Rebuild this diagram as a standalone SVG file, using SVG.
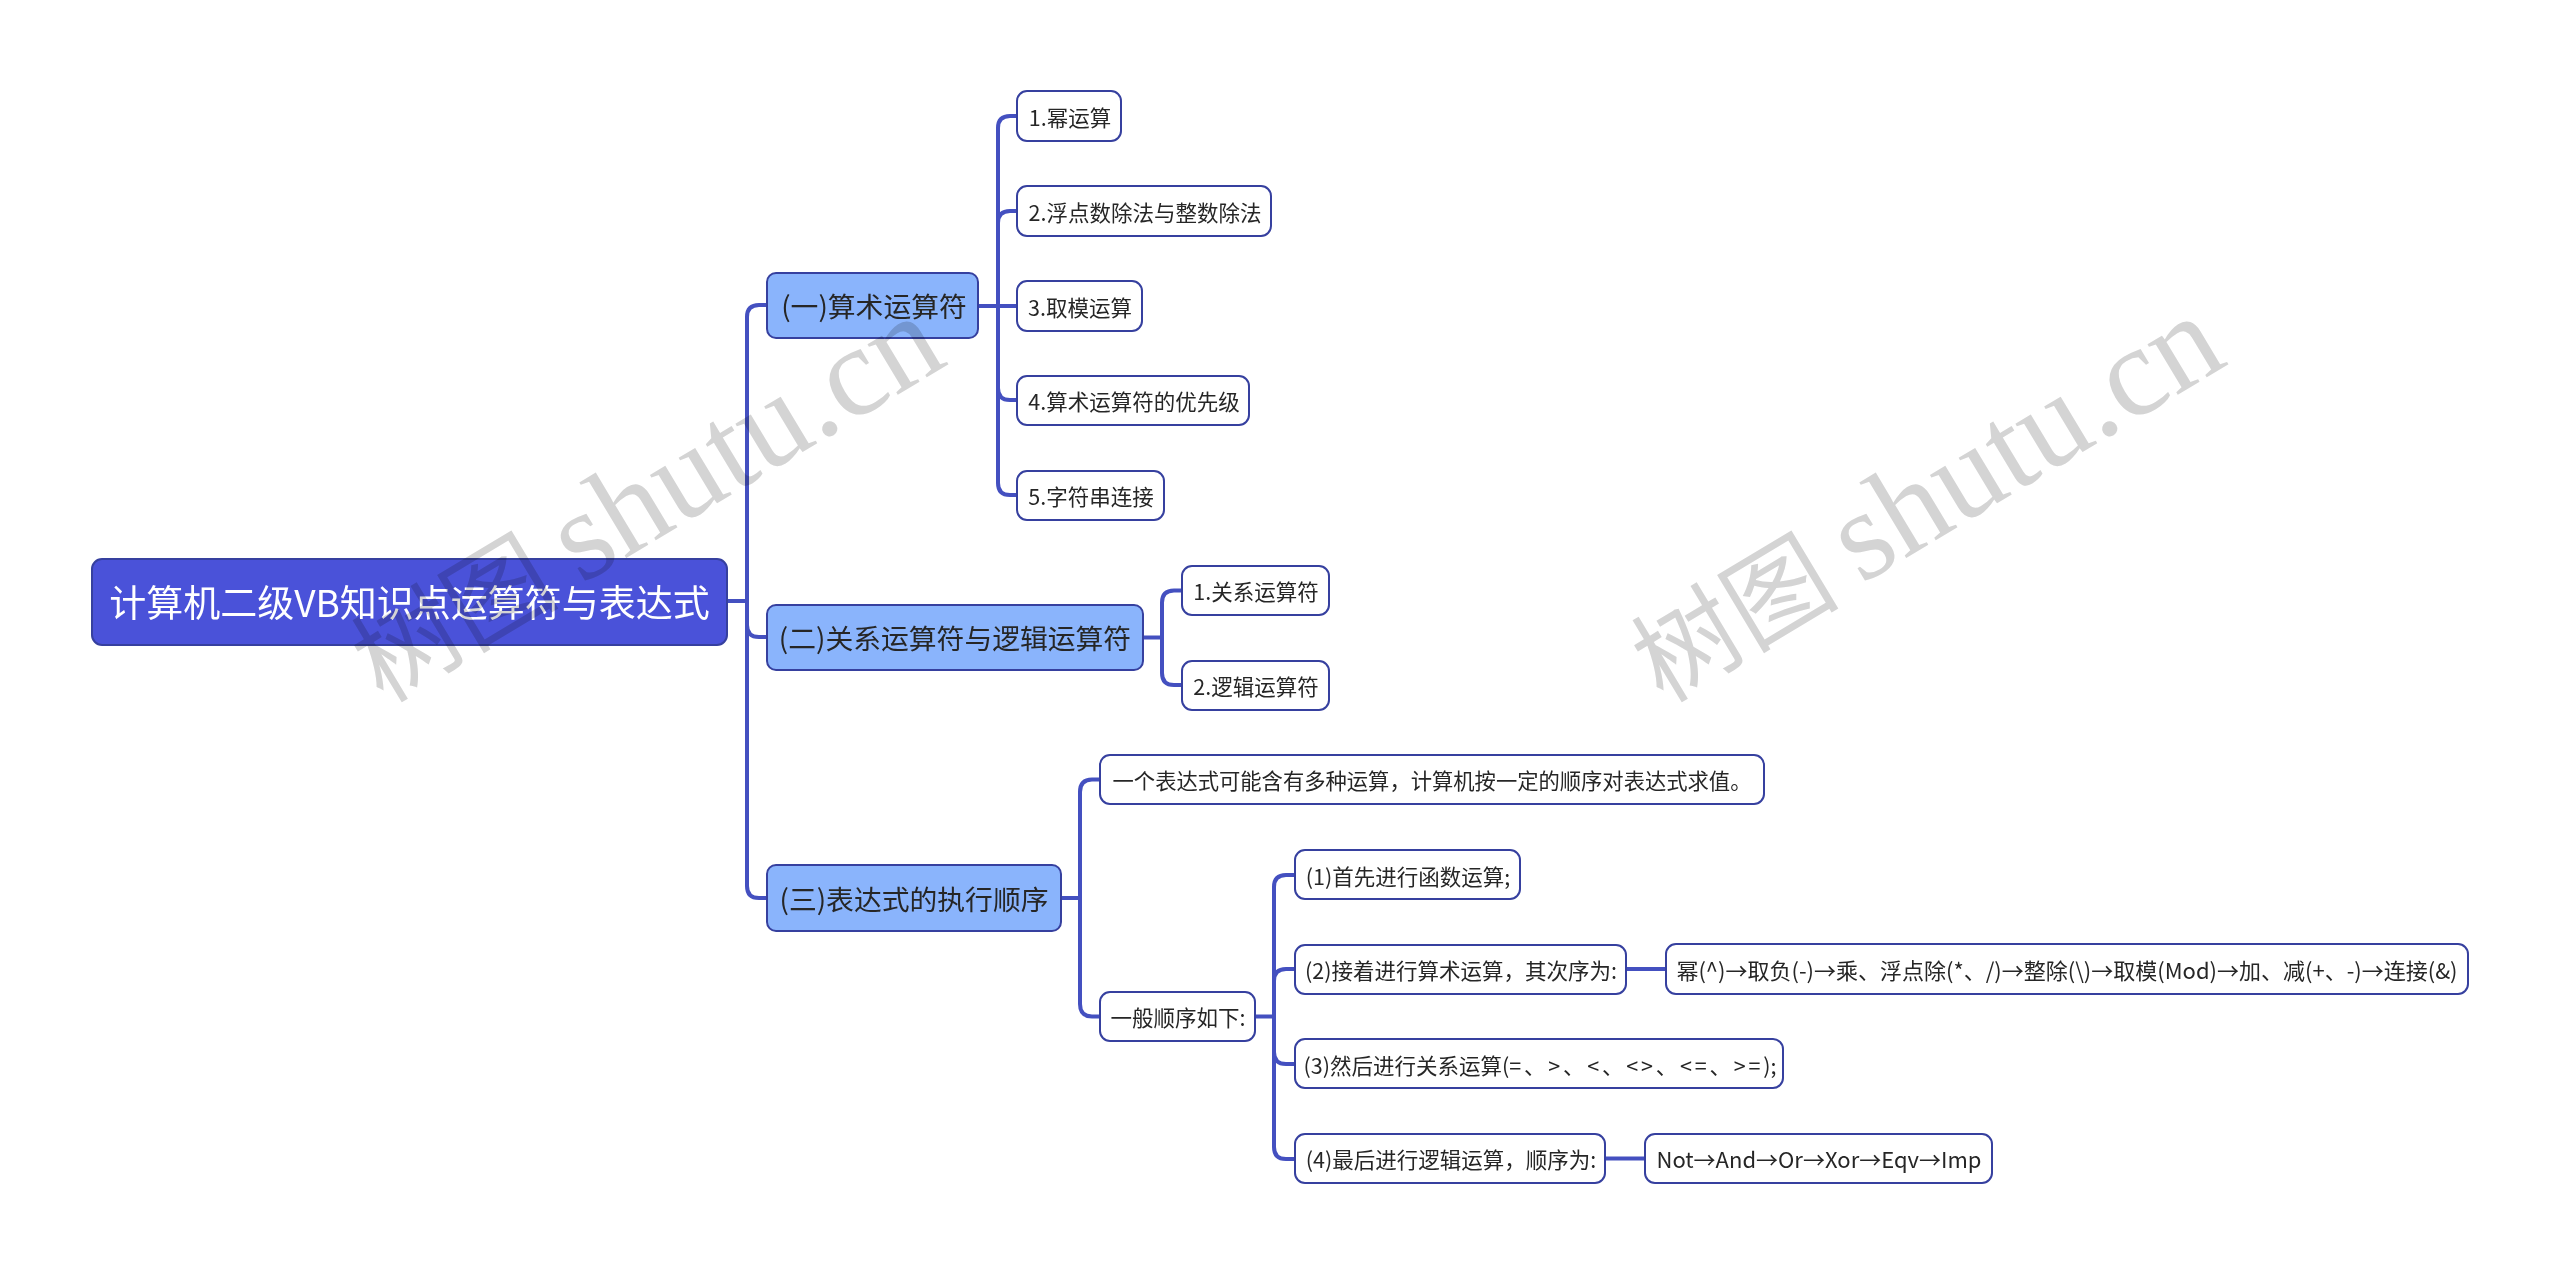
<svg xmlns="http://www.w3.org/2000/svg" width="2560" height="1275" viewBox="0 0 2560 1275">
<style>
text{font-family:"Noto Sans CJK SC","Noto Sans",sans-serif}
.t{font-size:21.500px;fill:#262626;text-anchor:middle;dominant-baseline:central}
.w{font-size:22px}
.b{font-size:27.800px;fill:#262626;text-anchor:middle;dominant-baseline:central}
.r{font-size:37px;fill:#fff;text-anchor:middle;dominant-baseline:central}
.leaf{fill:#fff;stroke:#36409f;stroke-width:2}
.branch{fill:#8ab4fc;stroke:#36409f;stroke-width:2}
.root{fill:#4a52d9;stroke:#36409f;stroke-width:2}
#connectors path{fill:none;stroke:#4450c0;stroke-width:4}
.wm{font-size:104px;fill:#d4d4d4;mix-blend-mode:multiply}
.wl{font-family:"Liberation Serif",serif;font-size:128px}
</style>
<rect width="2560" height="1275" fill="#fff"/>
<g id="connectors">
<path d="M727 601H747M747 317V886M747 317Q747 305 759 305H767M747 625Q747 637 759 637H767M747 886Q747 898 759 898H767"/>
<path d="M978 306H1017M998 128V483M998 128Q998 116 1010 116H1017M998 223Q998 211 1010 211H1017M998 388Q998 400 1010 400H1017M998 483Q998 495 1010 495H1017"/>
<path d="M1143 637.500H1162M1162 602.500V673M1162 602.500Q1162 590.500 1174 590.500H1182M1162 673Q1162 685 1174 685H1182"/>
<path d="M1061 898H1080M1080 792V1004M1080 792Q1080 779.500 1092 779.500H1100M1080 1004Q1080 1016.500 1092 1016.500H1100"/>
<path d="M1255 1016.500H1274M1274 887V1147M1274 887Q1274 875 1286 875H1295M1274 981Q1274 969 1286 969H1295M1274 1052Q1274 1064 1286 1064H1295M1274 1147Q1274 1159 1286 1159H1295"/>
<path d="M1626 969H1666M1605 1158.500H1645"/>
</g>
<g id="root"><rect class="root" x="92" y="559" width="635" height="86" rx="10"/><text class="r" x="409.500" y="601">计算机二级VB知识点运算符与表达式</text></g>
<g id="b1"><rect class="branch" x="767" y="273" width="211" height="65" rx="9"/><text class="b" x="874" y="305">(一)算术运算符</text></g>
<g id="b2"><rect class="branch" x="767" y="605" width="376" height="65" rx="9"/><text class="b" x="955" y="637">(二)关系运算符与逻辑运算符</text></g>
<g id="b3"><rect class="branch" x="767" y="865" width="294" height="66" rx="9"/><text class="b" x="914" y="898">(三)表达式的执行顺序</text></g>
<g id="n1"><rect class="leaf" x="1017" y="91" width="104" height="50" rx="10"/><text class="t" x="1070" y="116">1.幂运算</text></g>
<g id="n2"><rect class="leaf" x="1017" y="186" width="254" height="50" rx="10"/><text class="t" x="1145" y="211">2.浮点数除法与整数除法</text></g>
<g id="n3"><rect class="leaf" x="1017" y="281" width="125" height="50" rx="10"/><text class="t" x="1080" y="306">3.取模运算</text></g>
<g id="n4"><rect class="leaf" x="1017" y="376" width="232" height="49" rx="10"/><text class="t" x="1134" y="400">4.算术运算符的优先级</text></g>
<g id="n5"><rect class="leaf" x="1017" y="471" width="147" height="49" rx="10"/><text class="t" x="1091" y="495">5.字符串连接</text></g>
<g id="n6"><rect class="leaf" x="1182" y="566" width="147" height="49" rx="10"/><text class="t" x="1256" y="590">1.关系运算符</text></g>
<g id="n7"><rect class="leaf" x="1182" y="661" width="147" height="49" rx="10"/><text class="t" x="1256" y="685">2.逻辑运算符</text></g>
<g id="n8"><rect class="leaf" x="1100" y="755" width="664" height="49" rx="10"/><text class="t" x="1432" y="779" style="font-size:21.300px">一个表达式可能含有多种运算，计算机按一定的顺序对表达式求值。</text></g>
<g id="n9"><rect class="leaf" x="1100" y="992" width="155" height="49" rx="10"/><text class="t" x="1178" y="1016">一般顺序如下:</text></g>
<g id="n10"><rect class="leaf" x="1295" y="850" width="225" height="49" rx="10"/><text class="t" x="1408" y="875">(1)首先进行函数运算;</text></g>
<g id="n11"><rect class="leaf" x="1295" y="945" width="331" height="49" rx="10"/><text class="t" x="1461" y="969">(2)接着进行算术运算，其次序为:</text></g>
<g id="n12"><rect class="leaf" x="1295" y="1039" width="488" height="49" rx="10"/><text class="t" x="1540" y="1064">(3)然后进行关系运算(<tspan letter-spacing="2.800">=、&gt;、&lt;、&lt;&gt;、&lt;=、&gt;=</tspan>);</text></g>
<g id="n13"><rect class="leaf" x="1295" y="1134" width="310" height="49" rx="10"/><text class="t" x="1451" y="1158">(4)最后进行逻辑运算，顺序为:</text></g>
<g id="n14"><rect class="leaf" x="1666" y="944" width="802" height="50" rx="10"/><text class="t w" x="2067" y="969">幂(^)→取负(-)→乘、浮点除(*、/)→整除(\)→取模(Mod)→加、减(+、-)→连接(&amp;)</text></g>
<g id="n15"><rect class="leaf" x="1645" y="1134" width="347" height="49" rx="10"/><text class="t w" x="1819" y="1158">Not→And→Or→Xor→Eqv→Imp</text></g>
<text class="wm" transform="translate(383 704) rotate(-31)">树图 <tspan class="wl">shutu.cn</tspan></text>
<text class="wm" transform="translate(1663 704) rotate(-31)">树图 <tspan class="wl">shutu.cn</tspan></text>
</svg>
